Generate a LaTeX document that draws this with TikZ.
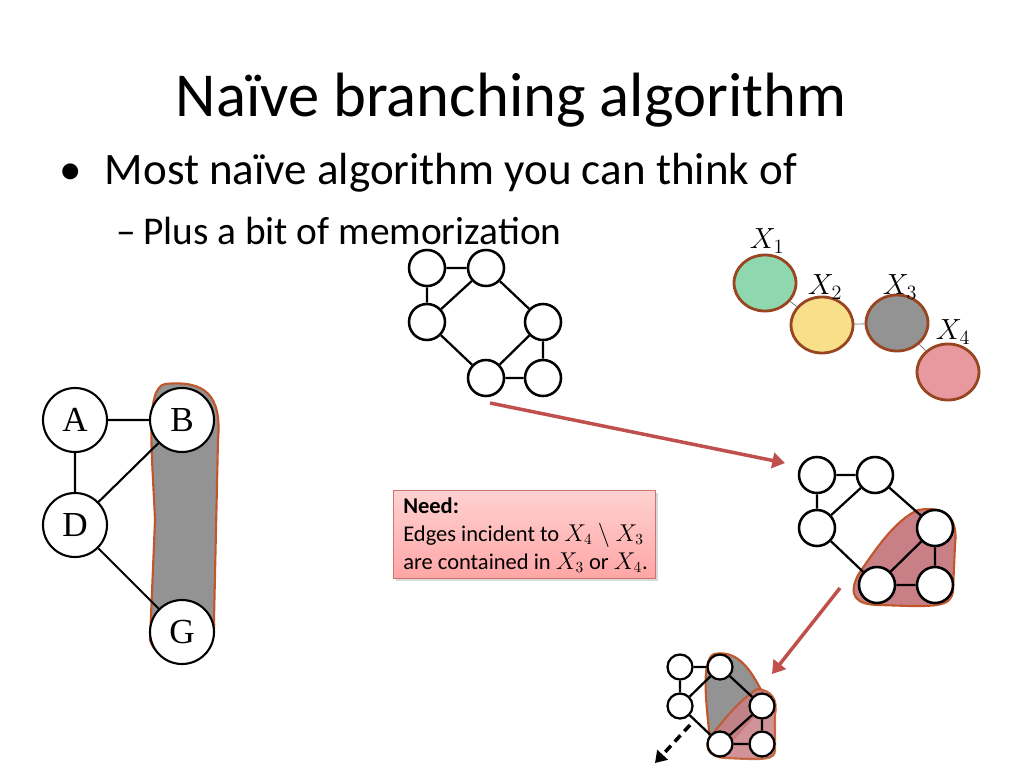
\documentclass[tikz,border=0pt]{standalone}
\usepackage{fontspec}
\setmainfont{Carlito}
\newfontfamily\serifA{Liberation Serif}
\usetikzlibrary{arrows.meta,shadows,shapes.geometric}
\definecolor{blobred}{HTML}{C97F86}
\definecolor{blobedge}{HTML}{C0562A}
\definecolor{arrred}{HTML}{C0504D}
\definecolor{grayfill}{HTML}{939393}
\begin{document}
\begin{tikzpicture}[x=0.025cm,y=-0.025cm,
  v/.style={circle,draw=black,line width=1.8pt,fill=white,minimum size=36*0.025cm,inner sep=0pt},
  vs/.style={circle,draw=black,line width=1.6pt,fill=white,minimum size=25*0.025cm,inner sep=0pt},
  vl/.style={circle,draw=black,line width=1.5pt,fill=white,minimum size=64*0.025cm,inner sep=0pt,font=\serifA\fontsize{25}{25}\selectfont},
  e/.style={line width=1.6pt},
  bag/.style={ellipse,draw=blobedge!80!black,line width=2pt,minimum width=62*0.025cm,minimum height=56*0.025cm,inner sep=0pt},
  blob/.style={draw=blobedge,line width=1.5pt},
  bigarrow/.style={draw=arrred,line width=2.5pt,-{Triangle[length=9pt,width=11pt]}},
  lab/.style={font=\fontsize{20}{20}\selectfont}]
\useasboundingbox (0,0) rectangle (1024,768);
% titles
\node[font=\fontsize{44.5}{46}\selectfont] (title) at (511,100) {Naïve branching algorithm};
\node[anchor=west,font=\fontsize{32}{34}\selectfont] (b1) at (55,173) {\textbullet\hspace{0.5em}Most naïve algorithm you can think of};
\node[anchor=west,font=\fontsize{28}{30}\selectfont] (b2) at (112,231) {–\,Plus a bit of memorization};
% left graph
\fill[grayfill,blob] (165,384) .. controls (205,380) and (222,395) .. (218,440) -- (214,620) .. controls (218,668) and (160,672) .. (150,640) -- (155,520) .. controls (152,450) and (145,388) .. (165,384) -- cycle;
\node[vl] (A) at (75,420) {A};
\node[vl] (B) at (182,420) {B};
\node[vl] (D) at (75,525) {D};
\node[vl] (G) at (182,632) {G};
\draw[line width=1.5pt] (A)--(B) (A)--(D) (D)--(B) (D)--(G);
% top graph
\node[v] (t1) at (427,268) {};
\node[v] (t2) at (486,268) {};
\node[v] (t3) at (427,322) {};
\node[v] (t4) at (543,322) {};
\node[v] (t5) at (486,378) {};
\node[v] (t6) at (543,378) {};
\draw[e] (t1)--(t2) (t1)--(t3) (t2)--(t3) (t2)--(t4) (t3)--(t5) (t4)--(t5) (t4)--(t6) (t5)--(t6);
% second graph
\fill[blobred,blob] (918,510) .. controls (948,505) and (958,520) .. (955,545) -- (953,590) .. controls (952,608) and (935,607) .. (880,605) .. controls (855,605) and (848,595) .. (858,575) .. controls (875,550) and (895,520) .. (918,510) -- cycle;
\node[v] (s1) at (817,475) {};
\node[v] (s2) at (875,475) {};
\node[v] (s3) at (817,528) {};
\node[v] (s4) at (935,528) {};
\node[v] (s5) at (877,585) {};
\node[v] (s6) at (935,585) {};
\draw[e] (s1)--(s2) (s1)--(s3) (s2)--(s3) (s2)--(s4) (s3)--(s5) (s4)--(s5) (s4)--(s6) (s5)--(s6);
% third graph
\fill[grayfill,blob] (714,654) .. controls (735,650) and (748,665) .. (760,688) -- (768,700) -- (728,745) -- (710,740) .. controls (707,710) and (700,660) .. (714,654) -- cycle;
\fill[blobred,blob,opacity=0.85] (757,689) .. controls (772,690) and (778,700) .. (775,715) -- (775,750) .. controls (775,760) and (765,760) .. (725,758) .. controls (707,757) and (703,745) .. (712,735) .. controls (725,718) and (740,700) .. (757,689) -- cycle;
\node[vs] (u1) at (680,667) {};
\node[vs] (u2) at (720,667) {};
\node[vs] (u3) at (680,706) {};
\node[vs] (u4) at (762,706) {};
\node[vs] (u5) at (720,744) {};
\node[vs] (u6) at (762,744) {};
\draw[e] (u1)--(u2) (u1)--(u3) (u2)--(u3) (u2)--(u4) (u3)--(u5) (u4)--(u5) (u4)--(u6) (u5)--(u6);
\coordinate (dA) at (690,725);
\coordinate (dB) at (655,763);
\draw[line width=2.5pt,dash pattern=on 6pt off 4pt,-{Triangle[length=8pt,width=10pt]}] (dA)--(dB);
% bags
\node[bag,fill={rgb,255:red,142;green,215;blue,175}] (X1) at (765,283) {};
\node[bag,fill={rgb,255:red,248;green,224;blue,139}] (X2) at (822,325) {};
\node[bag,fill=grayfill] (X3) at (897,323) {};
\node[bag,fill={rgb,255:red,232;green,153;blue,160}] (X4) at (948,372) {};
\draw[gray,line width=0.6pt] (X1)--(X2) (X2)--(X3) (X3)--(X4);
\node[lab] (l1) at (767,241) {$X_1$};
\node[lab] (l2) at (825,287) {$X_2$};
\node[lab] (l3) at (900,287) {$X_3$};
\node[lab] (l4) at (953,332) {$X_4$};
% arrows
\coordinate (a1s) at (490,403);
\coordinate (a1e) at (785,463);
\coordinate (a2s) at (840,588);
\coordinate (a2e) at (772,674);
\draw[bigarrow] (a1s)--(a1e);
\draw[bigarrow] (a2s)--(a2e);
% need box
\node[draw=arrred!80,line width=0.6pt,top color=red!18,bottom color=red!35!white,
  minimum width=262*0.025cm,minimum height=88*0.025cm,anchor=north west,inner sep=0pt,
  drop shadow={opacity=0.3,shadow xshift=2pt,shadow yshift=-2pt}] (box) at (393,490) {};
\node[anchor=north west,align=left,font=\fontsize{16}{20}\selectfont,inner sep=0pt] (boxt) at (403,497)
  {\textbf{Need:}\\Edges incident to $X_4\setminus X_3$\\are contained in $X_3$ or $X_4$.};
\end{tikzpicture}
\end{document}
